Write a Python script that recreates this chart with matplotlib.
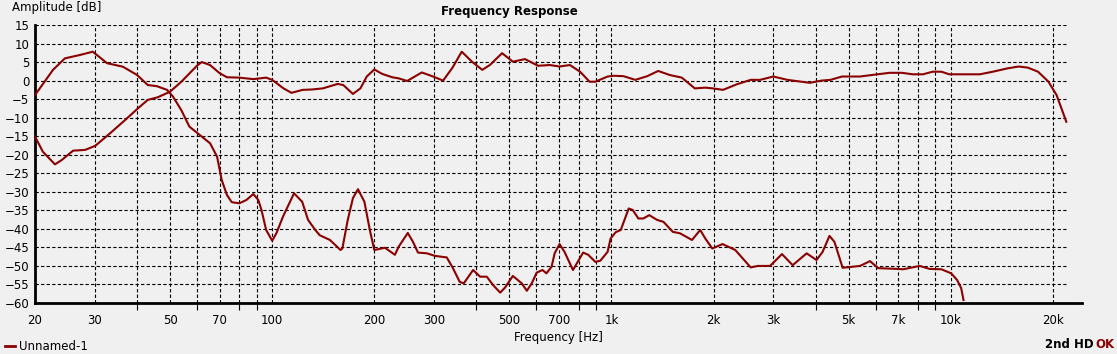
import numpy as np
import matplotlib.pyplot as plt

# fundamental (Hz, dB)
fund_f = [20, 21.1, 22.9, 24, 25.9, 28.1, 30.1, 33.3, 36.9, 40.2, 43, 46, 50, 54, 60, 62, 65.6,
          70, 73.6, 80, 88, 96, 100, 108, 114, 123, 131, 141, 156, 162, 173, 182, 190, 200,
          211, 226, 236, 250, 276, 298, 319, 340, 362, 388, 416, 438, 476, 512, 556, 608,
          658, 703, 754, 808, 862, 896, 974, 1016, 1084, 1176, 1275, 1373, 1486, 1612,
          1760, 1890, 1990, 2132, 2340, 2572, 2740, 3000, 3300, 3840, 4160, 4420, 4780,
          5400, 5840, 6600, 7180, 7720, 8280, 8840, 9380, 9900, 12180, 13300, 14700,
          15850, 16860, 18080, 19400, 20500, 21900]
fund_db = [-15.1, -19.2, -22.6, -21.4, -18.9, -18.7, -17.6, -14.2, -10.6, -7.5, -5.2, -4.5, -3.0,
           -0.3, 4.0, 5.0, 4.2, 2.0, 0.9, 0.8, 0.4, 0.8, 0.2, -2.1, -3.3, -2.5, -2.4, -2.1,
           -0.9, -1.2, -3.6, -2.1, 1.1, 3.0, 1.8, 0.9, 0.6, -0.1, 2.2, 1.1, 0.0, 3.5, 7.8,
           5.1, 2.9, 4.2, 7.4, 5.1, 5.8, 4.0, 4.2, 3.8, 4.2, 2.4, -0.3, -0.3, 1.1, 1.3, 1.2,
           0.2, 1.2, 2.6, 1.5, 0.8, -2.1, -1.9, -2.1, -2.5, -1.0, 0.2, 0.2, 1.1, 0.2, -0.6,
           0.0, 0.2, 1.1, 1.1, 1.5, 2.1, 2.1, 1.7, 1.7, 2.4, 2.4, 1.7, 1.7, 2.4, 3.3, 3.8,
           3.5, 2.4, -0.3, -3.9, -11.1]

# 2nd harmonic distortion (Hz, dB)
hd2_f = [20, 22.6, 24.5, 27.1, 29.6, 32.6, 36.3, 40, 43, 45.7, 49, 51, 54, 57, 62, 65.6, 68.8,
         71, 73.6, 76, 80, 84, 88, 91, 93, 96, 100, 103, 107.6, 116, 122.6, 127.6, 134, 138,
         148, 159, 161, 167, 173, 179, 187, 194, 200, 215, 230, 236, 251, 260, 269, 286,
         302, 327, 341, 357, 367, 391, 410, 429, 448, 470, 486, 512, 544, 563, 582, 602,
         626, 643, 666, 680, 703, 727, 770, 825, 854, 896, 927, 974, 994, 1029, 1065, 1124,
         1155, 1200, 1241, 1292, 1364, 1423, 1516, 1592, 1727, 1826, 1890, 1982, 2124,
         2316, 2572, 2700, 2934, 3180, 3420, 3760, 4020, 4190, 4390, 4540, 4800, 5400,
         5780, 6110, 6960, 7240, 8100, 8660, 9380, 10030, 10440, 10730, 10900]
hd2_db = [-3.9, 2.9, 6.0, 6.9, 7.8, 4.7, 3.75, 1.5, -1.2, -1.5, -2.5, -4.3, -8.0, -12.4, -15.1,
          -16.9, -20.5, -26.8, -30.9, -32.8, -33.1, -32.2, -30.6, -32.2, -34.9, -40.3, -43.2,
          -41.1, -36.7, -30.4, -32.7, -37.6, -40.3, -41.7, -43.0, -45.7, -45.3, -37.6, -31.7,
          -29.3, -32.7, -40.3, -45.7, -45.1, -47.0, -44.8, -41.1, -43.5, -46.4, -46.6, -47.3,
          -47.7, -50.6, -54.3, -54.7, -51.1, -52.9, -52.9, -55.2, -57.2, -55.8, -52.7, -54.7,
          -56.7, -54.7, -51.8, -51.1, -52.0, -50.2, -46.6, -44.1, -46.2, -51.1, -46.4, -47.0,
          -48.9, -48.6, -46.2, -42.6, -40.9, -40.3, -34.5, -34.9, -37.2, -37.2, -36.3, -37.6,
          -38.1, -40.8, -41.2, -43.0, -40.3, -42.6, -45.3, -44.1, -45.7, -50.4, -50.0, -50.0,
          -46.8, -49.8, -46.6, -48.4, -46.2, -41.9, -43.5, -50.5, -50.0, -48.7, -50.6, -50.8,
          -50.9, -50.0, -50.8, -50.9, -52.0, -53.8, -56.0, -59.2]

xticks = [20, 30, 50, 70, 100, 200, 300, 500, 700, 1000, 2000, 3000, 5000, 7000, 10000, 20000]
xlabels = ['20', '30', '50', '70', '100', '200', '300', '500', '700', '1k', '2k', '3k', '5k', '7k', '10k', '20k']
minor = [40, 60, 80, 90, 400, 600, 800, 900, 4000, 6000, 8000, 9000]
vgrid = [30, 40, 50, 60, 70, 80, 90, 100, 200, 300, 400, 500, 600, 700, 800, 900,
         1000, 2000, 3000, 4000, 5000, 6000, 7000, 8000, 9000, 10000, 20000]
yticks = list(range(-60, 16, 5))

bg = '#f0f0f0'
red = '#8b0000'
plt.rcParams['font.family'] = 'DejaVu Sans'

fig = plt.figure(figsize=(11.17, 3.54), dpi=100, facecolor=bg)
ax = fig.add_axes([35/1117, 1-303/354, (1082-35)/1117, 278/354])
ax.set_facecolor(bg)
ax.set_xscale('log')
ax.set_xlim(20, 24360)
ax.set_ylim(-60, 15)

dash = (0, (3, 2))
for y in yticks:
    ax.plot([20, 21860], [y, y], color='black', lw=0.8, ls=dash, zorder=1)
for x in vgrid:
    ax.plot([x, x], [-60, 15], color='black', lw=0.8, ls=dash, zorder=1)

ax.plot(fund_f, fund_db, color=red, lw=1.5, zorder=3)
ax.plot(hd2_f, hd2_db, color=red, lw=1.5, zorder=3)

for s in ['top', 'right']:
    ax.spines[s].set_visible(False)
ax.spines['left'].set_linewidth(2)
ax.spines['bottom'].set_linewidth(2)

ax.set_xticks(xticks)
ax.set_xticklabels(xlabels)
ax.set_xticks(minor, minor=True)
ax.xaxis.set_minor_formatter(plt.NullFormatter())
ax.tick_params(axis='x', which='major', length=0, pad=8, labelsize=8.5)
ax.tick_params(axis='x', which='minor', length=5, width=0.8, direction='out')
ax.set_yticks(yticks)
ax.tick_params(axis='y', length=0, pad=4, labelsize=8.5)

ax.set_xlabel('Frequency [Hz]', fontsize=8.5, labelpad=3)
fig.text(12/1117, 1-8/354, 'Amplitude [dB]', fontsize=8.5, va='center', ha='left')
fig.text(509/1117, 1-12/354, 'Frequency Response', fontsize=8.5, fontweight='bold', va='center', ha='center')

# legend
fig.add_artist(plt.Line2D([5/1117, 15/1117], [1-346/354, 1-346/354], color=red, lw=2))
fig.text(19/1117, 1-346/354, 'Unnamed-1', fontsize=8.5, va='center', ha='left')
fig.text(1094/1117, 1-345/354, '2nd HD', fontsize=8.5, fontweight='bold', va='center', ha='right')
fig.text(1095/1117, 1-345/354, 'OK', fontsize=8.5, fontweight='bold', color=red, va='center', ha='left')

fig.savefig('out.png', dpi=100, facecolor=bg)
